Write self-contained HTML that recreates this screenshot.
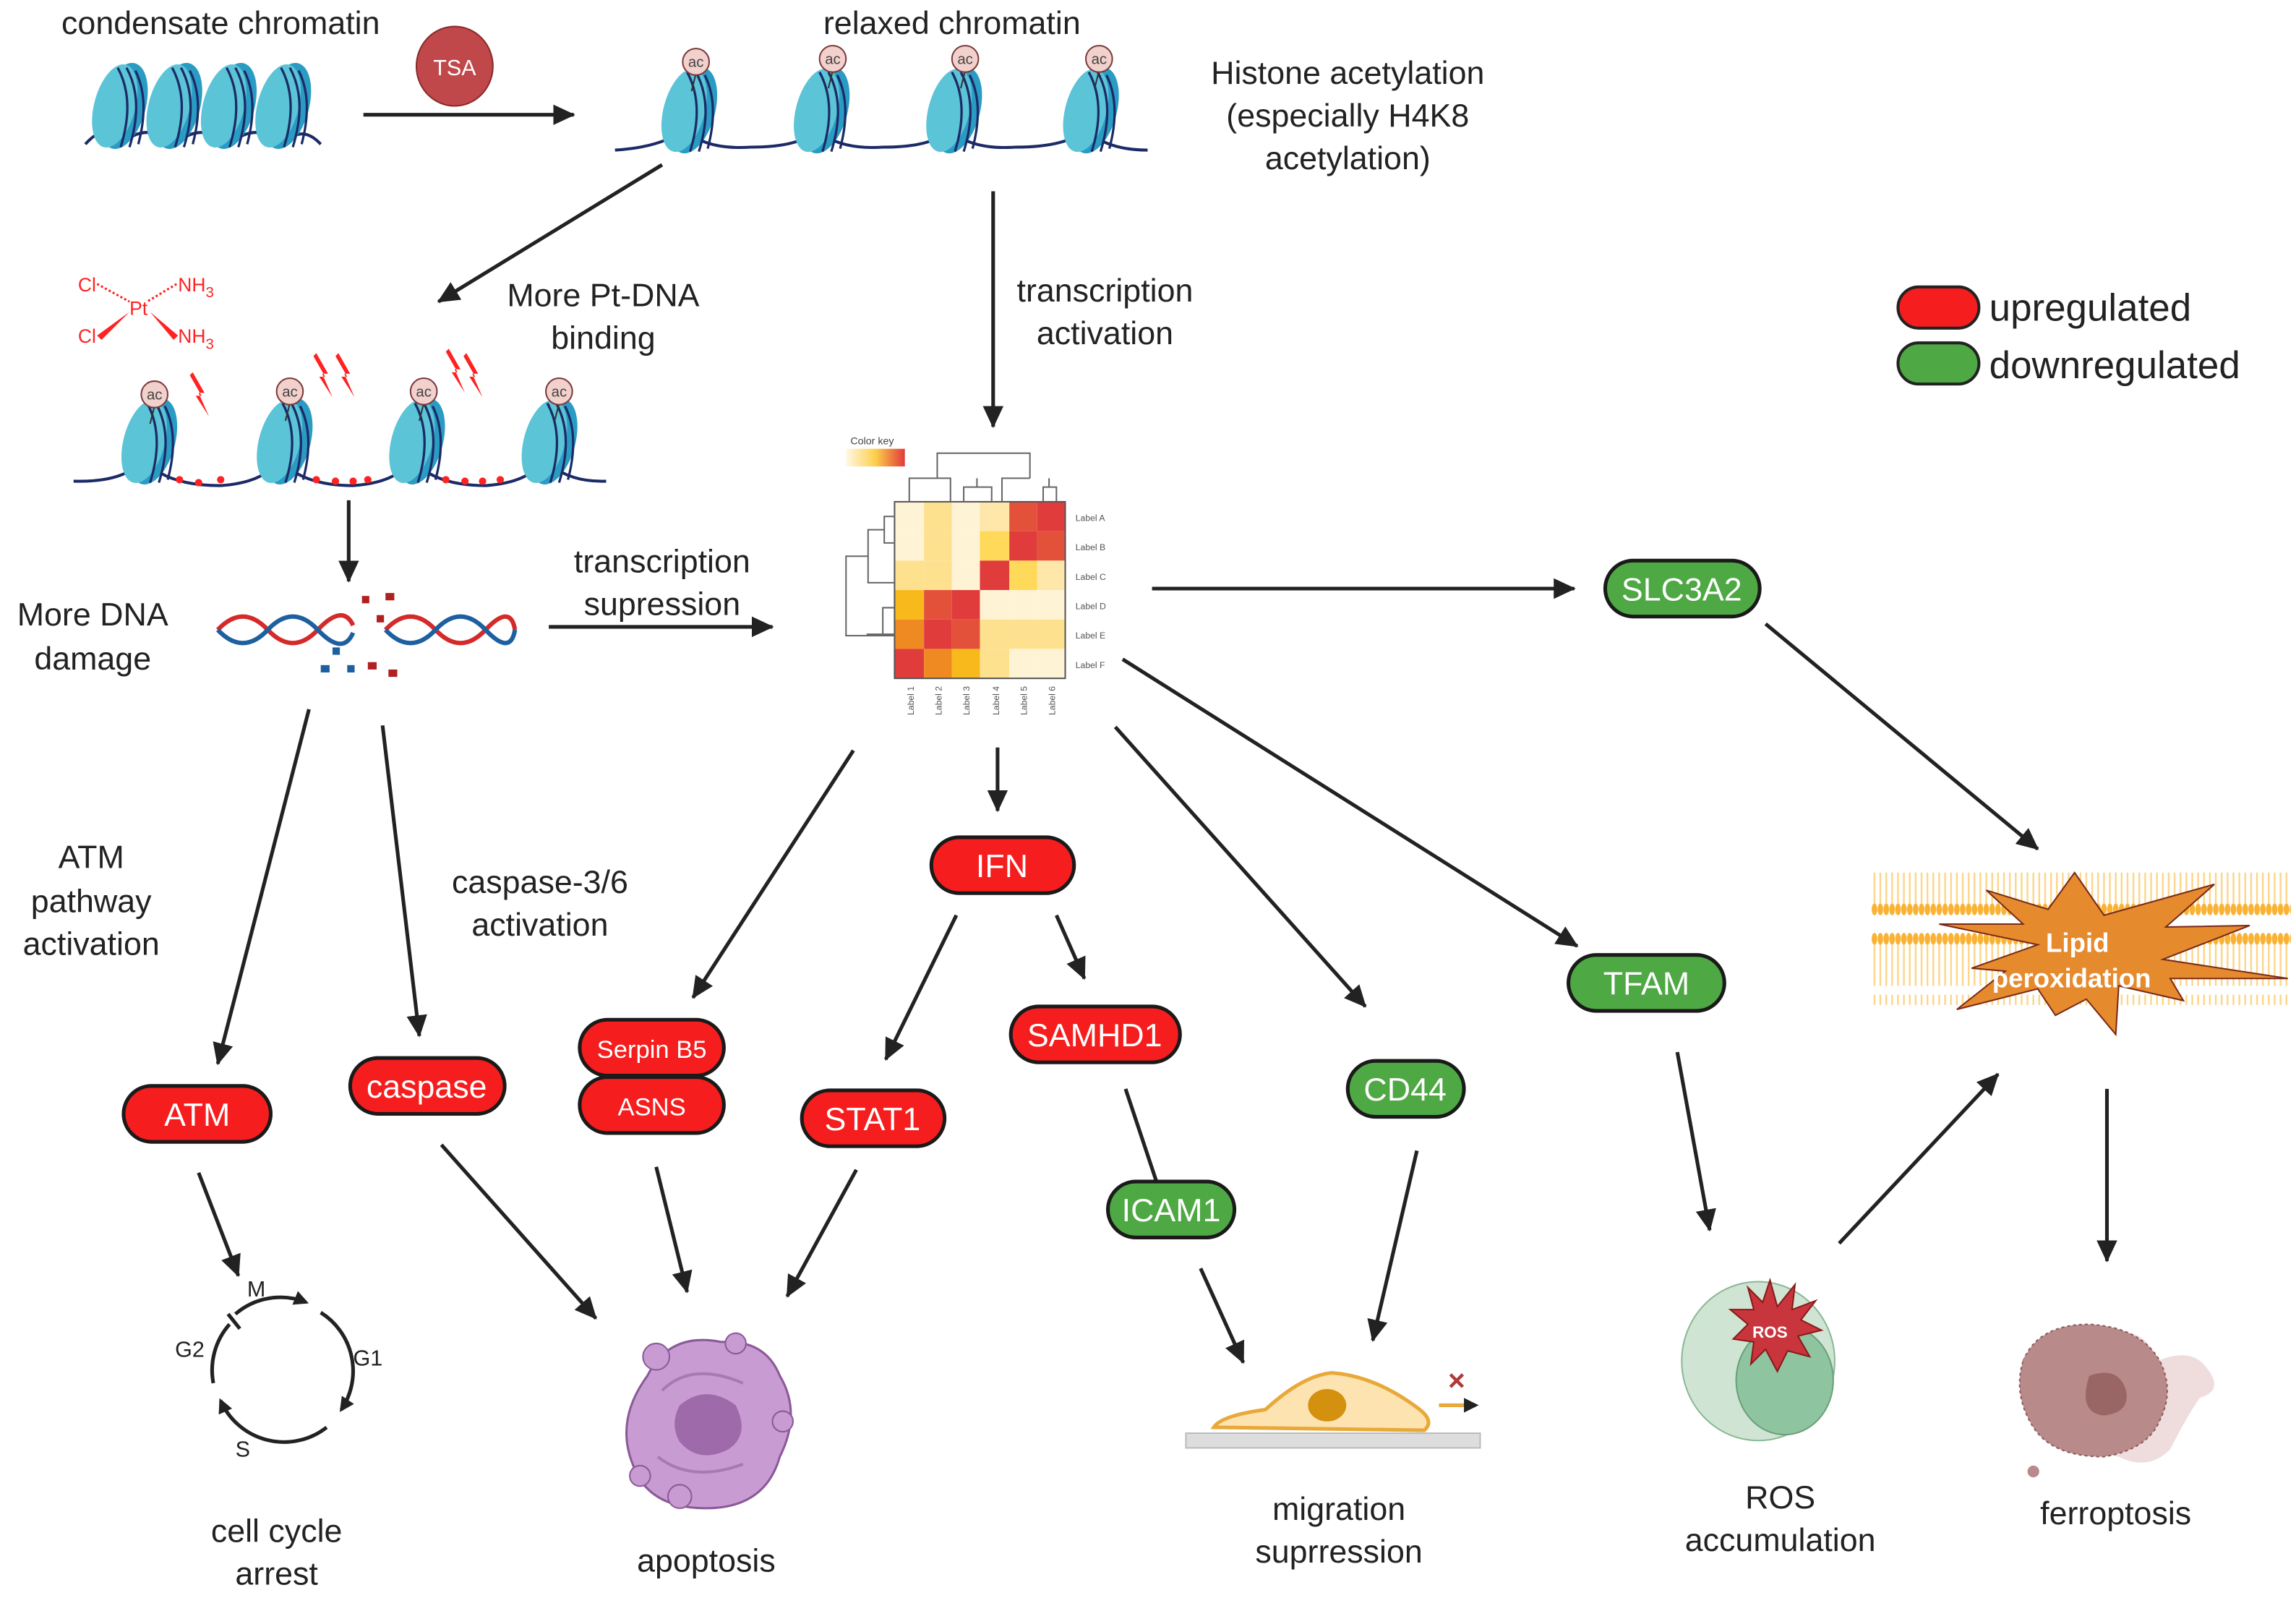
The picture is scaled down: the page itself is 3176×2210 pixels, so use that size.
<!DOCTYPE html>
<html><head><meta charset="utf-8"><style>
html,body{margin:0;padding:0;background:#fff}
svg{display:block}
text{font-family:"Liberation Sans",sans-serif}
</style></head><body>
<svg width="3176" height="2210" viewBox="0 0 1560.5 1086" preserveAspectRatio="none" xmlns="http://www.w3.org/2000/svg">
<defs>
<marker id="ah" markerWidth="10" markerHeight="10" refX="8" refY="5" orient="auto" markerUnits="userSpaceOnUse"><path d="M0,0 L10,5 L0,10 Z" fill="#222"/></marker>
<marker id="ahs" markerWidth="16" markerHeight="16" refX="14" refY="8" orient="auto" markerUnits="userSpaceOnUse"><path d="M0,1 L15,8 L0,15 Z" fill="#222"/></marker>
<g id="nuc">
 <ellipse cx="6" cy="0" rx="15" ry="30" transform="rotate(15 6 0)" fill="#2a9cc4"/>
 <ellipse cx="0" cy="0" rx="14" ry="29" transform="rotate(15)" fill="#5bc4d6"/>
 <path d="M2,-26 Q14,-4 4,28 M8,-26 Q20,-4 10,28 M14,-24 Q24,-4 16,26" stroke="#1c2a66" stroke-width="1.6" fill="none"/>
</g>
<g id="ac">
 <line x1="0" y1="8" x2="-3" y2="20" stroke="#333" stroke-width="1"/>
 <circle cx="0" cy="0" r="9" fill="#f2d0cc" stroke="#7a3a3a" stroke-width="1"/>
 <text x="0" y="3.5" font-size="10" text-anchor="middle" fill="#444">ac</text>
</g>
<path id="bolt" d="M0,0 L8,14 L4,14 L11,30 L2,16 L6,16 L-2,2 Z" fill="#f22"/>
</defs>

<g font-size="22" fill="#222" text-anchor="middle">
<text x="150" y="23">condensate chromatin</text>
<text x="647" y="23">relaxed chromatin</text>
<text x="916" y="57">Histone acetylation</text>
<text x="916" y="86">(especially H4K8</text>
<text x="916" y="115">acetylation)</text>
<text x="410" y="208">More Pt-DNA</text>
<text x="410" y="237">binding</text>
<text x="751" y="205">transcription</text>
<text x="751" y="234">activation</text>
<text x="63" y="425">More DNA</text>
<text x="63" y="455">damage</text>
<text x="450" y="389">transcription</text>
<text x="450" y="418">supression</text>
<text x="62" y="590">ATM</text>
<text x="62" y="620">pathway</text>
<text x="62" y="649">activation</text>
<text x="367" y="607">caspase-3/6</text>
<text x="367" y="636">activation</text>
<text x="188" y="1048">cell cycle</text>
<text x="188" y="1077">arrest</text>
<text x="480" y="1068">apoptosis</text>
<text x="910" y="1033">migration</text>
<text x="910" y="1062">suprression</text>
<text x="1210" y="1025">ROS</text>
<text x="1210" y="1054">accumulation</text>
<text x="1438" y="1036">ferroptosis</text>
</g>

<rect x="1290" y="195" width="55" height="28" rx="14" fill="#f51d1d" stroke="#222" stroke-width="2"/>
<rect x="1290" y="233" width="55" height="28" rx="14" fill="#4ea843" stroke="#222" stroke-width="2"/>
<text x="1352" y="218" font-size="26" fill="#222">upregulated</text>
<text x="1352" y="257" font-size="26" fill="#222">downregulated</text>

<ellipse cx="309" cy="45" rx="26" ry="27" fill="#c0474a" stroke="#8a2a2a"/>
<text x="309" y="51" font-size="15" fill="#fff" text-anchor="middle">TSA</text>
<line x1="247" y1="78" x2="390" y2="78" stroke="#222" stroke-width="2.5" marker-end="url(#ahs)"/>

<path d="M58,98 Q72,82 82,98 Q100,82 119,98 Q137,82 156,98 Q174,82 193,98 Q205,84 218,98" stroke="#1c2a66" stroke-width="2" fill="none"/>
<use href="#nuc" x="78" y="72"/><use href="#nuc" x="115" y="72"/><use href="#nuc" x="152" y="72"/><use href="#nuc" x="189" y="72"/>

<path d="M418,102 Q450,100 465,88 Q480,102 510,100 Q545,100 555,88 Q570,102 600,100 Q635,100 645,88 Q660,102 690,100 Q725,100 738,88 Q752,102 780,102" stroke="#1c2a66" stroke-width="2" fill="none"/>
<use href="#nuc" x="465" y="75"/><use href="#nuc" x="555" y="75"/><use href="#nuc" x="645" y="75"/><use href="#nuc" x="738" y="75"/>
<use href="#ac" x="473" y="42"/><use href="#ac" x="566" y="40"/><use href="#ac" x="656" y="40"/><use href="#ac" x="747" y="40"/>

<line x1="450" y1="112" x2="298" y2="205" stroke="#222" stroke-width="2.5" marker-end="url(#ahs)"/>
<line x1="675" y1="130" x2="675" y2="290" stroke="#222" stroke-width="2.5" marker-end="url(#ahs)"/>

<g fill="#f22" font-size="13">
<text x="53" y="198">Cl</text><text x="121" y="198">NH<tspan font-size="10" dy="4">3</tspan></text>
<text x="88" y="214">Pt</text>
<text x="53" y="233">Cl</text><text x="121" y="233">NH<tspan font-size="10" dy="4">3</tspan></text>
<path d="M66,193 L88,205 M120,193 L100,205" stroke="#f22" stroke-width="1.5" stroke-dasharray="1.5 1.5"/>
<path d="M88,212 L66,228 L69,231 Z M102,212 L121,228 L118,231 Z"/>
</g>

<path d="M50,327 Q85,328 98,312 Q112,330 150,330 Q180,328 190,312 Q205,330 240,330 Q270,328 280,312 Q295,330 330,330 Q360,328 370,312 Q385,328 412,327" stroke="#1c2a66" stroke-width="2" fill="none"/>
<use href="#nuc" x="98" y="300"/><use href="#nuc" x="190" y="300"/><use href="#nuc" x="280" y="300"/><use href="#nuc" x="370" y="300"/>
<use href="#ac" x="105" y="268"/><use href="#ac" x="197" y="266"/><use href="#ac" x="288" y="266"/><use href="#ac" x="380" y="266"/>
<g fill="#f22"><circle cx="122" cy="326" r="2.5"/><circle cx="135" cy="328" r="2.5"/><circle cx="150" cy="326" r="2.5"/><circle cx="215" cy="326" r="2.5"/><circle cx="228" cy="327" r="2.5"/><circle cx="240" cy="327" r="2.5"/><circle cx="250" cy="326" r="2.5"/><circle cx="303" cy="326" r="2.5"/><circle cx="316" cy="327" r="2.5"/><circle cx="328" cy="327" r="2.5"/><circle cx="340" cy="326" r="2.5"/></g>
<use href="#bolt" x="131" y="253"/><use href="#bolt" x="215" y="240"/><use href="#bolt" x="230" y="240"/><use href="#bolt" x="305" y="237"/><use href="#bolt" x="317" y="240"/>

<line x1="237" y1="340" x2="237" y2="395" stroke="#222" stroke-width="2.5" marker-end="url(#ahs)"/>

<path d="M148,428 Q165,410 182,428 T216,428 T240,425 M262,428 Q279,410 296,428 T330,428 T350,428" stroke="#d42a2a" stroke-width="3" fill="none"/>
<path d="M148,428 Q165,446 182,428 T216,428 T240,430 M262,428 Q279,446 296,428 T330,428 T350,428" stroke="#1e5fa0" stroke-width="3" fill="none"/>
<g fill="#b02020"><rect x="246" y="405" width="5" height="5"/><rect x="262" y="403" width="6" height="5"/><rect x="256" y="418" width="5" height="5"/><rect x="250" y="450" width="6" height="5"/><rect x="264" y="455" width="6" height="5"/></g>
<g fill="#1e5fa0"><rect x="218" y="452" width="6" height="5"/><rect x="236" y="452" width="5" height="5"/><rect x="226" y="440" width="5" height="5"/></g>

<line x1="373" y1="426" x2="525" y2="426" stroke="#222" stroke-width="2.5" marker-end="url(#ahs)"/>

<text x="578" y="302" font-size="7" fill="#444">Color key</text>
<defs><linearGradient id="ck"><stop offset="0" stop-color="#fff8e6"/><stop offset="0.5" stop-color="#fdd04a"/><stop offset="1" stop-color="#e23a3a"/></linearGradient></defs>
<rect x="575" y="305" width="40" height="12" fill="url(#ck)"/>
<g>
<rect x="608" y="341" width="20" height="20" fill="#fff3d6"/><rect x="628" y="341" width="19" height="20" fill="#fee18f"/><rect x="647" y="341" width="19" height="20" fill="#fff3d6"/><rect x="666" y="341" width="20" height="20" fill="#fee7a8"/><rect x="686" y="341" width="19" height="20" fill="#e4513a"/><rect x="705" y="341" width="19" height="20" fill="#e03c3c"/>
<rect x="608" y="361" width="20" height="20" fill="#fff3d6"/><rect x="628" y="361" width="19" height="20" fill="#fee18f"/><rect x="647" y="361" width="19" height="20" fill="#fff3d6"/><rect x="666" y="361" width="20" height="20" fill="#fed95a"/><rect x="686" y="361" width="19" height="20" fill="#e03c3c"/><rect x="705" y="361" width="19" height="20" fill="#e4513a"/>
<rect x="608" y="381" width="20" height="20" fill="#fee18f"/><rect x="628" y="381" width="19" height="20" fill="#fee18f"/><rect x="647" y="381" width="19" height="20" fill="#fff3d6"/><rect x="666" y="381" width="20" height="20" fill="#e03c3c"/><rect x="686" y="381" width="19" height="20" fill="#fed95a"/><rect x="705" y="381" width="19" height="20" fill="#fee7a8"/>
<rect x="608" y="401" width="20" height="20" fill="#f8b91c"/><rect x="628" y="401" width="19" height="20" fill="#e4513a"/><rect x="647" y="401" width="19" height="20" fill="#e03c3c"/><rect x="666" y="401" width="20" height="20" fill="#fff3d6"/><rect x="686" y="401" width="19" height="20" fill="#fff3d6"/><rect x="705" y="401" width="19" height="20" fill="#fff3d6"/>
<rect x="608" y="421" width="20" height="20" fill="#ef8a23"/><rect x="628" y="421" width="19" height="20" fill="#e03c3c"/><rect x="647" y="421" width="19" height="20" fill="#e4513a"/><rect x="666" y="421" width="20" height="20" fill="#fee18f"/><rect x="686" y="421" width="19" height="20" fill="#fee18f"/><rect x="705" y="421" width="19" height="20" fill="#fee18f"/>
<rect x="608" y="441" width="20" height="20" fill="#e03c3c"/><rect x="628" y="441" width="19" height="20" fill="#ef8a23"/><rect x="647" y="441" width="19" height="20" fill="#f8b91c"/><rect x="666" y="441" width="20" height="20" fill="#fee18f"/><rect x="686" y="441" width="19" height="20" fill="#fff3d6"/><rect x="705" y="441" width="19" height="20" fill="#fff3d6"/>
<rect x="608" y="341" width="116" height="120" fill="none" stroke="#555" stroke-width="1"/>
</g>
<g stroke="#666" stroke-width="1" fill="none">
<path d="M618,341 V325 H646 V341 M637,325 V308 H700 V325 M655,341 V331 H674 V341 M664,331 V325 M681,341 V325 H700 M709,341 V331 H718 V341 M713,331 V325"/>
<path d="M608,351 H601 V369 H608 M601,360 H590 V396 H608 M590,378 H575 V432 H608 M575,432 H599 M608,413 H600 V431 H608 M600,431 H589"/>
</g>
<g font-size="6" fill="#555">
<text x="731" y="354">Label A</text><text x="731" y="374">Label B</text><text x="731" y="394">Label C</text><text x="731" y="414">Label D</text><text x="731" y="434">Label E</text><text x="731" y="454">Label F</text>
<text transform="translate(621,486) rotate(-90)">Label 1</text><text transform="translate(640,486) rotate(-90)">Label 2</text><text transform="translate(659,486) rotate(-90)">Label 3</text><text transform="translate(679,486) rotate(-90)">Label 4</text><text transform="translate(698,486) rotate(-90)">Label 5</text><text transform="translate(717,486) rotate(-90)">Label 6</text>
</g>

<g stroke="#222" stroke-width="2.5" fill="none">
<line x1="783" y1="400" x2="1070" y2="400" marker-end="url(#ahs)"/>
<line x1="1200" y1="424" x2="1385" y2="577" marker-end="url(#ahs)"/>
<line x1="1432" y1="740" x2="1432" y2="857" marker-end="url(#ahs)"/>
<line x1="763" y1="448" x2="1072" y2="643" marker-end="url(#ahs)"/>
<line x1="1140" y1="715" x2="1162" y2="836" marker-end="url(#ahs)"/>
<line x1="1250" y1="845" x2="1358" y2="730" marker-end="url(#ahs)"/>
<line x1="758" y1="494" x2="928" y2="684" marker-end="url(#ahs)"/>
<line x1="963" y1="782" x2="933" y2="911" marker-end="url(#ahs)"/>
<line x1="678" y1="508" x2="678" y2="551" marker-end="url(#ahs)"/>
<line x1="650" y1="622" x2="602" y2="720" marker-end="url(#ahs)"/>
<line x1="718" y1="622" x2="737" y2="665" marker-end="url(#ahs)"/>
<line x1="765" y1="740" x2="789" y2="812"/>
<line x1="780" y1="816" x2="798" y2="810"/>
<line x1="816" y1="862" x2="845" y2="926" marker-end="url(#ahs)"/>
<line x1="580" y1="510" x2="471" y2="678" marker-end="url(#ahs)"/>
<line x1="446" y1="793" x2="467" y2="878" marker-end="url(#ahs)"/>
<line x1="582" y1="795" x2="535" y2="881" marker-end="url(#ahs)"/>
<line x1="300" y1="778" x2="405" y2="896" marker-end="url(#ahs)"/>
<line x1="260" y1="493" x2="285" y2="704" marker-end="url(#ahs)"/>
<line x1="210" y1="482" x2="148" y2="723" marker-end="url(#ahs)"/>
<line x1="135" y1="797" x2="162" y2="867" marker-end="url(#ahs)"/>
</g>

<g stroke="#1a1a1a" stroke-width="2.5" font-size="22" text-anchor="middle">
<rect x="1091" y="381" width="105" height="38" rx="19" fill="#4ea843"/>
<rect x="1066" y="649" width="106" height="38" rx="19" fill="#4ea843"/>
<rect x="916" y="721" width="79" height="38" rx="19" fill="#4ea843"/>
<rect x="753" y="803" width="86" height="38" rx="19" fill="#4ea843"/>
<rect x="633" y="569" width="97" height="38" rx="19" fill="#f51d1d"/>
<rect x="545" y="741" width="97" height="38" rx="19" fill="#f51d1d"/>
<rect x="687" y="684" width="115" height="38" rx="19" fill="#f51d1d"/>
<rect x="394" y="693" width="98" height="38" rx="19" fill="#f51d1d"/>
<rect x="394" y="732" width="98" height="38" rx="19" fill="#f51d1d"/>
<rect x="238" y="719" width="105" height="38" rx="19" fill="#f51d1d"/>
<rect x="84" y="738" width="100" height="38" rx="19" fill="#f51d1d"/>
</g>
<g fill="#fff" font-size="22" text-anchor="middle">
<text x="1143" y="408">SLC3A2</text>
<text x="1119" y="676">TFAM</text>
<text x="955" y="748">CD44</text>
<text x="796" y="830">ICAM1</text>
<text x="681" y="596">IFN</text>
<text x="593" y="768">STAT1</text>
<text x="744" y="711">SAMHD1</text>
<text x="443" y="719" font-size="17">Serpin B5</text>
<text x="443" y="758" font-size="17">ASNS</text>
<text x="290" y="746">caspase</text>
<text x="134" y="765">ATM</text>
</g>

<g stroke="#222" stroke-width="2.5" fill="none">
<path d="M160,893 A47,47 0 0 1 208,885" marker-end="url(#ah)"/>
<path d="M218,892 A47,47 0 0 1 232,958" marker-end="url(#ah)"/>
<path d="M222,970 A47,47 0 0 1 150,952" marker-end="url(#ah)"/>
<path d="M145,940 A47,47 0 0 1 156,900"/>
<line x1="155" y1="893" x2="163" y2="903"/>
</g>
<g font-size="15" fill="#222"><text x="168" y="881">M</text><text x="240" y="928">G1</text><text x="160" y="990">S</text><text x="119" y="922">G2</text></g>

<g>
<path d="M440,935 Q455,905 490,912 Q520,910 530,935 Q545,960 530,990 Q520,1025 480,1025 Q440,1025 430,995 Q418,965 440,935 Z" fill="#c99bd3" stroke="#8a5a98" stroke-width="1.5"/>
<circle cx="446" cy="922" r="9" fill="#c99bd3" stroke="#8a5a98"/><circle cx="500" cy="913" r="7" fill="#c99bd3" stroke="#8a5a98"/><circle cx="532" cy="966" r="7" fill="#c99bd3" stroke="#8a5a98"/><circle cx="435" cy="1003" r="7" fill="#c99bd3" stroke="#8a5a98"/><circle cx="462" cy="1017" r="8" fill="#c99bd3" stroke="#8a5a98"/>
<path d="M462,955 Q480,940 500,955 Q510,975 495,985 Q475,995 462,980 Q455,968 462,955 Z" fill="#9e6aa9"/>
<path d="M450,945 Q470,925 505,940 M447,990 Q470,1008 505,995" stroke="#a67bb3" stroke-width="2" fill="none"/>
</g>

<rect x="806" y="974" width="200" height="10" fill="#ddd" stroke="#bbb"/>
<path d="M825,970 Q830,962 860,958 Q885,935 905,933 Q935,935 965,958 Q975,966 968,972 Z" fill="#fde3b0" stroke="#e8a93a" stroke-width="2.5"/>
<ellipse cx="902" cy="955" rx="13" ry="11" fill="#d4900f"/>
<line x1="978" y1="955" x2="1003" y2="955" stroke="#e8a93a" stroke-width="2.5" marker-end="url(#ah)"/>
<text x="990" y="945" font-size="20" font-weight="bold" fill="#b03a3a" text-anchor="middle">×</text>

<ellipse cx="1195" cy="925" rx="52" ry="54" fill="#cfe4d2" stroke="#8ab896"/>
<ellipse cx="1213" cy="938" rx="33" ry="37" fill="#8fc4a0" stroke="#6aa07a"/>
<polygon points="1203,870 1208,888 1220,873 1218,890 1234,884 1224,897 1238,904 1222,908 1230,922 1215,918 1208,932 1200,917 1190,927 1192,912 1178,910 1188,900 1176,890 1192,890 1188,875 1198,885" fill="#c8353d" stroke="#8a1a1a"/>
<text x="1203" y="909" font-size="11" font-weight="bold" fill="#fff" text-anchor="middle">ROS</text>

<defs><pattern id="mem" width="4" height="90" patternUnits="userSpaceOnUse">
<ellipse cx="2" cy="8" rx="1.9" ry="4" fill="#f9b233"/><line x1="2" y1="12" x2="2" y2="40" stroke="#fcd68a" stroke-width="1.2"/>
<line x1="2" y1="46" x2="2" y2="74" stroke="#fcd68a" stroke-width="1.2"/><ellipse cx="2" cy="78" rx="1.9" ry="4" fill="#f9b233"/>
</pattern></defs>
<rect x="1272" y="593" width="285" height="90" fill="url(#mem)"/>
<polygon points="1410,593 1430,622 1505,601 1472,630 1529,629 1470,652 1555,665 1475,665 1484,680 1440,670 1438,703 1418,679 1397,690 1385,672 1330,686 1363,660 1340,658 1385,642 1318,628 1375,628 1350,605 1392,618" fill="#e68a2e" stroke="#7a2a1a" stroke-width="1"/>
<text x="1412" y="647" font-size="18" font-weight="bold" fill="#fff" text-anchor="middle">Lipid</text>
<text x="1408" y="671" font-size="18" font-weight="bold" fill="#fff" text-anchor="middle">peroxidation</text>

<path d="M1466,925 Q1490,915 1500,930 Q1512,945 1495,950 Q1485,965 1475,985 Q1460,1000 1440,990 Q1410,985 1400,965 Q1385,945 1395,925 Q1400,905 1440,905 Q1460,905 1466,925 Z" fill="#e8cfcf" opacity="0.7"/>
<path d="M1375,925 Q1385,900 1420,900 Q1455,902 1468,925 Q1478,945 1468,965 Q1460,985 1430,990 Q1395,990 1382,970 Q1368,948 1375,925 Z" fill="#b88a8a" stroke="#8a5a5a" stroke-dasharray="2 2"/>
<path d="M1420,935 Q1440,928 1445,945 Q1448,960 1430,962 Q1412,960 1420,935 Z" fill="#9a6565"/>
<circle cx="1380" cy="925" r="5" fill="#b88a8a"/><circle cx="1458" cy="960" r="6" fill="#b88a8a"/><circle cx="1382" cy="1000" r="4" fill="#b88a8a"/>
</svg>
</body></html>
